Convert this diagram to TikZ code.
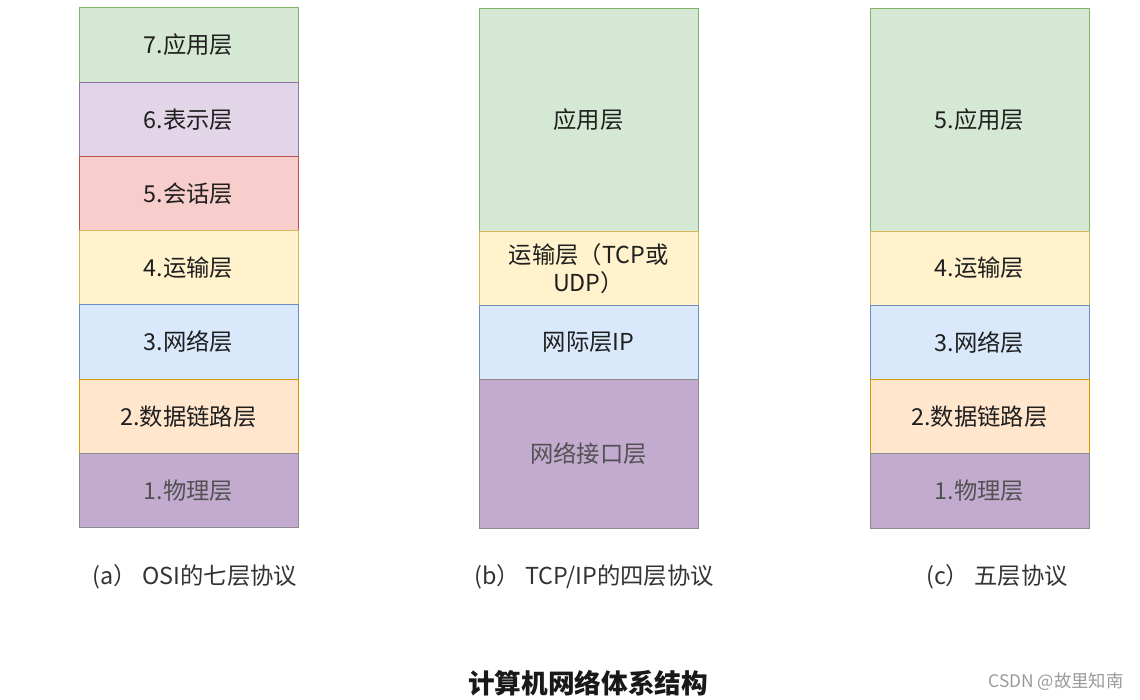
\documentclass[tikz,border=0pt]{standalone}
\usepackage{fontspec}
\setmainfont{Noto Sans CJK SC}
\usetikzlibrary{positioning}

\definecolor{appfill}{HTML}{D5E8D4}\definecolor{appline}{HTML}{82B366}
\definecolor{prefill}{HTML}{E1D5E7}\definecolor{preline}{HTML}{9673A6}
\definecolor{sesfill}{HTML}{F8CECC}\definecolor{sesline}{HTML}{B85450}
\definecolor{trafill}{HTML}{FFF2CC}\definecolor{traline}{HTML}{D6B656}
\definecolor{netfill}{HTML}{DAE8FC}\definecolor{netline}{HTML}{6C8EBF}
\definecolor{dlfill}{HTML}{FFE6CC}\definecolor{dlline}{HTML}{D79B00}
\definecolor{phyfill}{HTML}{C3ABD0}\definecolor{phyline}{HTML}{8C8C8C}

\begin{document}
\begin{tikzpicture}[x=0.75pt, y=-0.75pt,
      layer/.style={rectangle, draw, line width=0.75pt, inner sep=0pt, outer sep=0pt,
          minimum width=164.25pt, minimum height=55.7pt,
          font=\fontsize{17.5}{21}\selectfont, text=black!88, align=center},
      app/.style={layer, fill=appfill, draw=appline},
      pre/.style={layer, fill=prefill, draw=preline},
      ses/.style={layer, fill=sesfill, draw=sesline},
      tra/.style={layer, fill=trafill, draw=traline},
      net/.style={layer, fill=netfill, draw=netline},
      dl/.style={layer, fill=dlfill, draw=dlline},
      phy/.style={layer, fill=phyfill, draw=phyline, text=black!68},
      caption/.style={font=\fontsize{17.5}{20}\selectfont, text=black!80}]
    \useasboundingbox (0,0) rectangle (1140,700);

    % (a) OSI
    \node[app] (a7) at (188.5,45) {7.应用层};
    \node[pre, below=0pt of a7] (a6) {6.表示层};
    \node[ses, below=0pt of a6] (a5) {5.会话层};
    \node[tra, below=0pt of a5] (a4) {4.运输层};
    \node[net, below=0pt of a4] (a3) {3.网络层};
    \node[dl, below=0pt of a3] (a2) {2.数据链路层};
    \node[phy, below=0pt of a2] (a1) {1.物理层};

    % (b) TCP/IP
    \node[app, minimum height=167.25pt] (b4) at (588.5,119.5) {应用层};
    \node[tra, below=0pt of b4] (b3) {运输层（TCP或\\UDP）};
    \node[net, below=0pt of b3] (b2) {网际层IP};
    \node[phy, minimum height=111.7pt, below=0pt of b2] (b1) {网络接口层};

    % (c) five layers
    \node[app, minimum height=167.25pt] (c5) at (979.5,119.5) {5.应用层};
    \node[tra, below=0pt of c5] (c4) {4.运输层};
    \node[net, below=0pt of c4] (c3) {3.网络层};
    \node[dl, below=0pt of c3] (c2) {2.数据链路层};
    \node[phy, below=0pt of c2] (c1) {1.物理层};

    \node[caption] (capa) at (195,577) {(a） OSI的七层协议};
    \node[caption] (capb) at (594,577) {(b） TCP/IP的四层协议};
    \node[caption] (capc) at (997,577) {(c） 五层协议};

    \node[font=\fontsize{20}{22}\bfseries, text=black!90] (title) at (588,683) {计算机网络体系结构};
    \node[font=\fontsize{13}{15}\selectfont, text=black!40] (mark) at (1056,682) {CSDN @故里知南};
  \end{tikzpicture}
\end{document}
